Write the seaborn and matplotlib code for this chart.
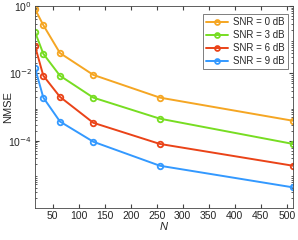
import numpy as np
import pandas as pd
import matplotlib
matplotlib.use("Agg")
import matplotlib.pyplot as plt
import seaborn as sns

# data
N = [16, 32, 64, 128, 256, 512]
nmse_0db = [0.81, 0.27, 0.040, 0.0090, 0.0019, 3.9e-4]
nmse_3db = [0.17, 0.038, 0.0085, 0.0019, 4.5e-4, 8.0e-5]
nmse_6db = [0.065, 0.0085, 0.0020, 3.4e-4, 8.0e-5, 1.8e-5]
nmse_9db = [0.0145, 0.0019, 3.7e-4, 9.3e-5, 1.8e-5, 4.1e-6]
labels = ["SNR = 0 dB", "SNR = 3 dB", "SNR = 6 dB", "SNR = 9 dB"]
colors = ["#F5A623", "#77DD22", "#EA4318", "#3399FF"]

sns.set_style("ticks")
plt.rcParams['font.family'] = ['Liberation Sans', 'DejaVu Sans']

fig = plt.figure(figsize=(2.98, 2.40), dpi=100)
ax = fig.add_axes([35 / 298, 1 - 208 / 240, 258 / 298, 202 / 240])

for lab, vals, c in zip(labels, [nmse_0db, nmse_3db, nmse_6db, nmse_9db], colors):
    df = pd.DataFrame({"N": N, "NMSE": vals})
    sns.lineplot(data=df, x="N", y="NMSE", color=c, label=lab, marker="o",
                 markersize=4, linewidth=1.4, ax=ax)

# open circles, same colour as the line
for ln in ax.get_lines():
    ln.set_linestyle("-")
    ln.set_markerfacecolor("none")
    ln.set_markeredgecolor(ln.get_color())
    ln.set_markeredgewidth(1.3)

ax.set_yscale("log")
ax.set_xlim(16, 512)
ax.set_ylim(1e-6, 1)
ax.set_xticks(np.arange(50, 501, 50))
ax.set_yticks([1e-4, 1e-2, 1])
ax.set_yticklabels([r"10$^{-4}$", r"10$^{-2}$", r"10$^{0}$"])
ax.yaxis.set_minor_locator(matplotlib.ticker.LogLocator(base=10, subs=np.arange(2, 10), numticks=20))
ax.yaxis.set_minor_formatter(matplotlib.ticker.NullFormatter())
ax.tick_params(which="both", direction="in", top=True, right=True, labelsize=7.5,
               color="#444444", pad=2)
ax.tick_params(which="major", length=3)
ax.tick_params(which="minor", length=1.5)
for s in ax.spines.values():
    s.set_color("#444444")
    s.set_linewidth(0.6)

ax.set_xlabel("N", fontstyle="italic", fontsize=8, labelpad=1)
ax.set_ylabel("NMSE", fontsize=8)
ax.yaxis.set_label_coords(-0.085, 0.5)

leg = ax.legend(loc="upper right", fontsize=7, frameon=True, fancybox=False,
                edgecolor="#444444", borderpad=0.35, labelspacing=0.3,
                handlelength=2.2, handletextpad=0.5,
                bbox_to_anchor=(0.998, 0.985))
leg.get_frame().set_linewidth(0.6)
for h in leg.get_lines():
    h.set_linestyle("-")
    h.set_markersize(3.5)
    h.set_markerfacecolor("none")
    h.set_markeredgecolor(h.get_color())

fig.savefig("out.png", dpi=100)
